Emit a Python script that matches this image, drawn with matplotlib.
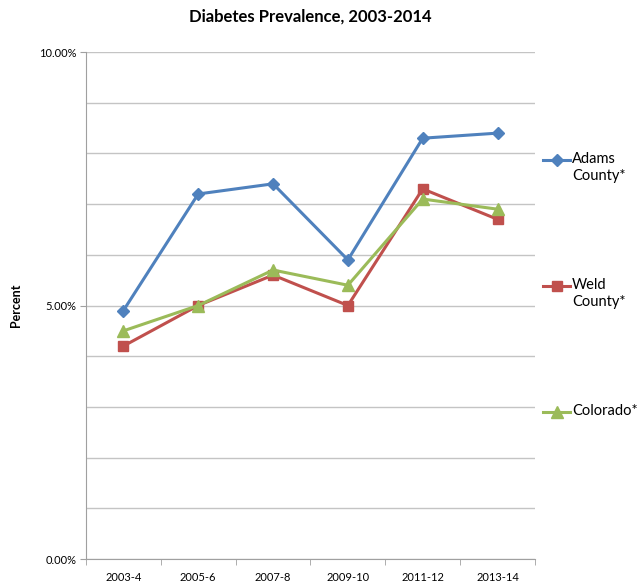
import numpy as np
import matplotlib.pyplot as plt
from matplotlib.lines import Line2D
from matplotlib.ticker import FuncFormatter, MultipleLocator

plt.rcParams['font.family'] = ['Lato', 'DejaVu Sans']

periods = ['2003-4', '2005-6', '2007-8', '2009-10', '2011-12', '2013-14']
adams = [4.9, 7.2, 7.4, 5.9, 8.3, 8.4]
weld = [4.2, 5.0, 5.6, 5.0, 7.3, 6.7]
colorado = [4.5, 5.0, 5.7, 5.4, 7.1, 6.9]

series = [
    ('Adams\nCounty*', adams, '#4F81BD', 'D', 6),
    ('Weld\nCounty*', weld, '#C0504D', 's', 7.5),
    ('Colorado*', colorado, '#9BBB59', '^', 8),
]

fig = plt.figure(figsize=(6.43, 5.85), dpi=100)
ax = fig.add_axes([0.1337, 0.0444, 0.6983, 0.8667])

x = np.arange(len(periods))
for label, vals, color, marker, ms in series:
    ax.plot(x, vals, color=color, lw=2.2, marker=marker, ms=ms,
            markeredgecolor=color, zorder=3)

ax.set_xlim(-0.5, len(periods) - 0.5)
ax.set_ylim(0, 10)
ax.yaxis.set_major_locator(MultipleLocator(5))
ax.yaxis.set_minor_locator(MultipleLocator(1))
ax.yaxis.set_major_formatter(FuncFormatter(lambda v, p: f'{v:.2f}%'))
ax.grid(axis='y', which='both', color='#c4c4c4', lw=1)
ax.set_axisbelow(True)

ax.set_xticks(x)
ax.set_xticklabels(periods)
ax.set_xticks(np.arange(-0.5, len(periods)), minor=True)
ax.tick_params(axis='x', which='major', length=0, pad=9, labelsize=8)
ax.tick_params(axis='x', which='minor', length=4, color='#a0a0a0')
ax.tick_params(axis='y', which='major', length=4, color='#a0a0a0', labelsize=8, pad=3)
ax.tick_params(axis='y', which='minor', length=0)

for side in ('top', 'right'):
    ax.spines[side].set_visible(False)
for side in ('left', 'bottom'):
    ax.spines[side].set_color('#a0a0a0')

ax.set_title('Diabetes Prevalence, 2003-2014', fontsize=12, fontweight='bold', pad=22)
ax.set_ylabel('Percent', fontsize=9, fontweight='bold', labelpad=12)

# legend drawn by hand at the right side
legend_y = [160, 286, 412]
for (label, vals, color, marker, ms), py in zip(series, legend_y):
    fy = 1 - py / 585
    fig.add_artist(Line2D([543 / 643, 570 / 643], [fy, fy], color=color, lw=2.2,
                          transform=fig.transFigure))
    fig.add_artist(Line2D([556.5 / 643], [fy], color=color, marker=marker, ms=ms,
                          markeredgecolor=color, transform=fig.transFigure))
    fig.text(572 / 643, fy + 0.013, label, fontsize=10.5, va='top', ha='left',
             linespacing=1.25)

fig.savefig('out.png', dpi=100)
